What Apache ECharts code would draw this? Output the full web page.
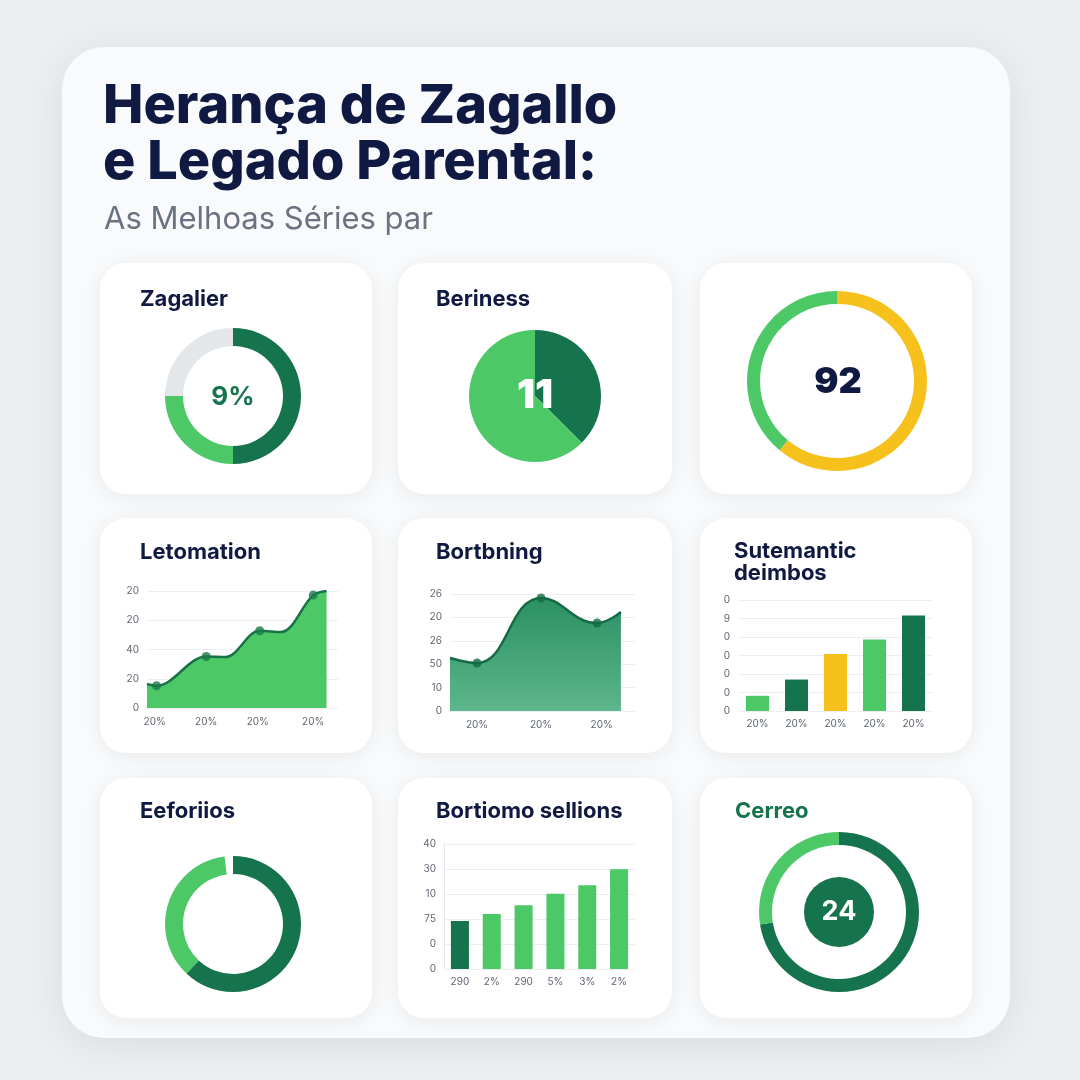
<!DOCTYPE html>
<html><head><meta charset="utf-8">
<script src="https://cdn.jsdelivr.net/npm/echarts@6/dist/echarts.min.js"></script>
<style>html,body{margin:0;padding:0;background:#eceff1}#c{width:1080px;height:1080px}</style>
</head><body><div id="c"></div>
<script>
// ---------- DATA ----------
const titleLines = ['Herança de Zagallo', 'e Legado Parental:'];
const subtitle = 'As Melhoas Séries par';

// Card 1 – donut
const zagalierTitle = 'Zagalier';
const zagalierValues = [50, 25, 25];
const zagalierCenter = '9%';

// Card 2 – pie
const berinessTitle = 'Beriness';
const berinessValues = [37.5, 62.5];
const berinessCenter = '11';

// Card 3 – ring
const ringValues = [61, 39];
const ringCenter = '92';

// Card 4 – area
const letoTitle = 'Letomation';
const letoX = [0, 5, 31, 41, 59, 70, 87, 94];
const letoY = [20.5, 19, 44, 43.5, 66, 65, 96.5, 100];
const letoMarkerIdx = [1, 2, 4, 6];
const letoXTickPos = [4, 31, 58, 87];
const letoXTicks = ['20%', '20%', '20%', '20%'];
const letoYTicks = ['0', '20', '40', '20', '20'];

// Card 5 – area
const bortTitle = 'Bortbning';
const bortX = [0, 14.6, 49.2, 79.5, 92.4];
const bortY = [45.3, 41, 96.6, 75.2, 84.6];
const bortMarkerIdx = [1, 2, 3];
const bortXTickPos = [14.6, 49.2, 82];
const bortXTicks = ['20%', '20%', '20%'];
const bortYTicks = ['0', '10', '50', '26', '20', '26'];

// Card 6 – bars
const sutTitle = ['Sutemantic', 'deimbos'];
const sutCats = ['20%', '20%', '20%', '20%', '20%'];
const sutValues = [8.2, 17, 30.8, 38.6, 51.6];
const sutColorKeys = ['light', 'dark', 'yellow', 'light', 'dark'];
const sutYTicks = ['0', '0', '0', '0', '0', '9', '0'];

// Card 7 – donut
const eefTitle = 'Eeforiios';
const eefValues = [62, 36, 2];

// Card 8 – bars
const bsTitle = 'Bortiomo sellions';
const bsCats = ['290', '2%', '290', '5%', '3%', '2%'];
const bsValues = [19.2, 22, 25.5, 30.1, 33.5, 39.9];
const bsColorKeys = ['dark', 'light', 'light', 'light', 'light', 'light'];
const bsYTicks = ['0', '0', '75', '10', '30', '40'];

// Card 9 – ring
const cerreoTitle = 'Cerreo';
const cerreoValues = [72.5, 27.5];
const cerreoCenter = [24];

// ---------- STYLE ----------
const C = { dark: '#15734d', light: '#4dc866', yellow: '#f6c11c', gray: '#e3e7ea', navy: '#0f1941' };
const FONT = 'Inter, "Noto Sans", sans-serif';

const cards = [
  [100, 263, 272, 231], [398, 263, 274, 231], [700, 263, 272, 231],
  [100, 518, 272, 235], [398, 518, 274, 235], [700, 518, 272, 235],
  [100, 778, 272, 240], [398, 778, 274, 240], [700, 778, 272, 240]
];

const graphics = [];
graphics.push({ type: 'rect', z: -2, shape: { x: 62, y: 47, width: 948, height: 991, r: 42 },
  style: { fill: '#f9fafb', shadowBlur: 40, shadowColor: 'rgba(0,0,0,0.08)', shadowOffsetY: 6 } });
cards.forEach(c => graphics.push({ type: 'rect', z: -1, shape: { x: c[0], y: c[1], width: c[2], height: c[3], r: 26 },
  style: { fill: '#ffffff', shadowBlur: 22, shadowColor: 'rgba(0,0,0,0.07)', shadowOffsetY: 3 } }));

function txt(text, x, y, size, color, weight, align) {
  graphics.push({ type: 'text', z: 100, x: x, y: y,
    style: { text: text, fill: color, font: (weight || 'bold') + ' ' + size + 'px ' + FONT,
      textAlign: align || 'left', textVerticalAlign: 'middle' } });
}
txt(titleLines[0], 103, 107, 54, C.navy, '800');
txt(titleLines[1], 103, 163, 54, C.navy, '800');
txt(subtitle, 104, 220, 31, '#6b7380', 'normal');
txt(zagalierTitle, 140, 299, 22, C.navy);
txt(berinessTitle, 436, 299, 22, C.navy);
txt(letoTitle, 140, 552, 22, C.navy);
txt(bortTitle, 436, 552, 22, C.navy);
txt(sutTitle[0], 734, 551, 22, C.navy);
txt(sutTitle[1], 734, 573, 22, C.navy);
txt(eefTitle, 140, 811, 22, C.navy);
txt(bsTitle, 436, 811, 22, C.navy);
txt(cerreoTitle, 735, 811, 22, C.dark);
txt(zagalierCenter, 233, 397, 26, C.dark, 'bold', 'center');
txt(berinessCenter, 535, 396, 40, '#ffffff', '900', 'center');
txt(ringCenter, 838, 382, 36, C.navy, '900', 'center');

const axisLabelStyle = { color: '#5f6672', fontSize: 10, fontFamily: FONT };
const gridLine = { show: true, lineStyle: { color: '#eceef1', width: 1 } };

const grids = [
  { left: 147, top: 591, width: 191, height: 117 },
  { left: 450, top: 594, width: 185, height: 117 },
  { left: 738, top: 600, width: 195, height: 111 },
  { left: 444, top: 844, width: 191, height: 125 }
];

function valueX(gi, pos, labels) {
  return { type: 'value', gridIndex: gi, min: 0, max: 100, z: 3,
    axisLine: { show: false }, axisTick: { show: false }, splitLine: { show: false },
    axisLabel: Object.assign({ customValues: pos, margin: 9,
      formatter: (v) => { const k = pos.findIndex(p => Math.abs(p - v) < 1e-6); return k >= 0 ? labels[k] : ''; } },
      axisLabelStyle) };
}
function valueY(gi, max, interval, labels, showLine) {
  return { type: 'value', gridIndex: gi, min: 0, max: max, interval: interval, z: 3,
    axisLine: { show: !!showLine, lineStyle: { color: '#e6e8eb' } }, axisTick: { show: false }, splitLine: gridLine,
    axisLabel: Object.assign({ margin: 8, formatter: (v) => labels[Math.round(v / interval)] }, axisLabelStyle) };
}
function catX(gi, cats) {
  return { type: 'category', gridIndex: gi, data: cats, z: 3,
    axisLine: { show: false }, axisTick: { show: false }, splitLine: { show: false },
    axisLabel: Object.assign({ margin: 8 }, axisLabelStyle) };
}

const letoData = letoX.map((x, i) => [x, letoY[i]]);
const bortData = bortX.map((x, i) => [x, bortY[i]]);

const option = {
  backgroundColor: '#eceff1',
  animation: false,
  graphic: graphics,
  grid: grids,
  xAxis: [valueX(0, letoXTickPos, letoXTicks), valueX(1, bortXTickPos, bortXTicks), catX(2, sutCats), catX(3, bsCats)],
  yAxis: [valueY(0, 100, 25, letoYTicks), valueY(1, 100, 20, bortYTicks), valueY(2, 60, 10, sutYTicks), valueY(3, 50, 10, bsYTicks, true)],
  series: [
    { type: 'pie', z: 5, center: [233, 396], radius: [50, 68], startAngle: 90, label: { show: false }, silent: true,
      data: zagalierValues.map((v, i) => ({ value: v, itemStyle: { color: [C.dark, C.light, C.gray][i] } })) },
    { type: 'pie', z: 5, center: [535, 396], radius: [0, 66], startAngle: 90, label: { show: false }, silent: true,
      data: berinessValues.map((v, i) => ({ value: v, itemStyle: { color: [C.dark, C.light][i] } })) },
    { type: 'pie', z: 5, center: [837, 381], radius: [77, 90], startAngle: 90, label: { show: false }, silent: true,
      data: ringValues.map((v, i) => ({ value: v, itemStyle: { color: [C.yellow, C.light][i] } })) },
    { type: 'line', z: 5, xAxisIndex: 0, yAxisIndex: 0, data: letoData, smooth: 0.35, showSymbol: false,
      lineStyle: { color: '#177246', width: 2.5 }, areaStyle: { color: C.light, opacity: 1 } },
    { type: 'scatter', z: 6, xAxisIndex: 0, yAxisIndex: 0, symbolSize: 9,
      data: letoMarkerIdx.map(i => letoData[i]), itemStyle: { color: '#1a7a4b' } },
    { type: 'line', z: 5, xAxisIndex: 1, yAxisIndex: 1, data: bortData, smooth: 0.45, showSymbol: false,
      lineStyle: { color: '#146a45', width: 2.5 },
      areaStyle: { opacity: 1, color: new echarts.graphic.LinearGradient(0, 0, 0, 1, [
        { offset: 0, color: '#2b9063' }, { offset: 1, color: '#5db68c' }]) } },
    { type: 'scatter', z: 6, xAxisIndex: 1, yAxisIndex: 1, symbolSize: 9,
      data: bortMarkerIdx.map(i => bortData[i]), itemStyle: { color: '#146a45' } },
    { type: 'bar', z: 5, xAxisIndex: 2, yAxisIndex: 2, barWidth: 23,
      data: sutValues.map((v, i) => ({ value: v, itemStyle: { color: C[sutColorKeys[i]] } })) },
    { type: 'pie', z: 5, center: [233, 924], radius: [50, 68], startAngle: 90, label: { show: false }, silent: true,
      data: eefValues.map((v, i) => ({ value: v, itemStyle: { color: [C.dark, C.light, 'rgba(0,0,0,0)'][i] } })) },
    { type: 'bar', z: 5, xAxisIndex: 3, yAxisIndex: 3, barWidth: 18,
      data: bsValues.map((v, i) => ({ value: v, itemStyle: { color: C[bsColorKeys[i]] } })) },
    { type: 'pie', z: 5, center: [839, 912], radius: [67, 80], startAngle: 90, label: { show: false }, silent: true,
      data: cerreoValues.map((v, i) => ({ value: v, itemStyle: { color: [C.dark, C.light][i] } })) },
    { type: 'pie', z: 5, center: [839, 912], radius: [0, 35], silent: true,
      label: { show: true, position: 'center', formatter: '{c}', color: '#ffffff', fontSize: 27, fontWeight: 'bold', fontFamily: FONT },
      data: cerreoCenter.map(v => ({ value: v, itemStyle: { color: C.dark } })) }
  ]
};
echarts.init(document.getElementById('c')).setOption(option);
</script></body></html>
